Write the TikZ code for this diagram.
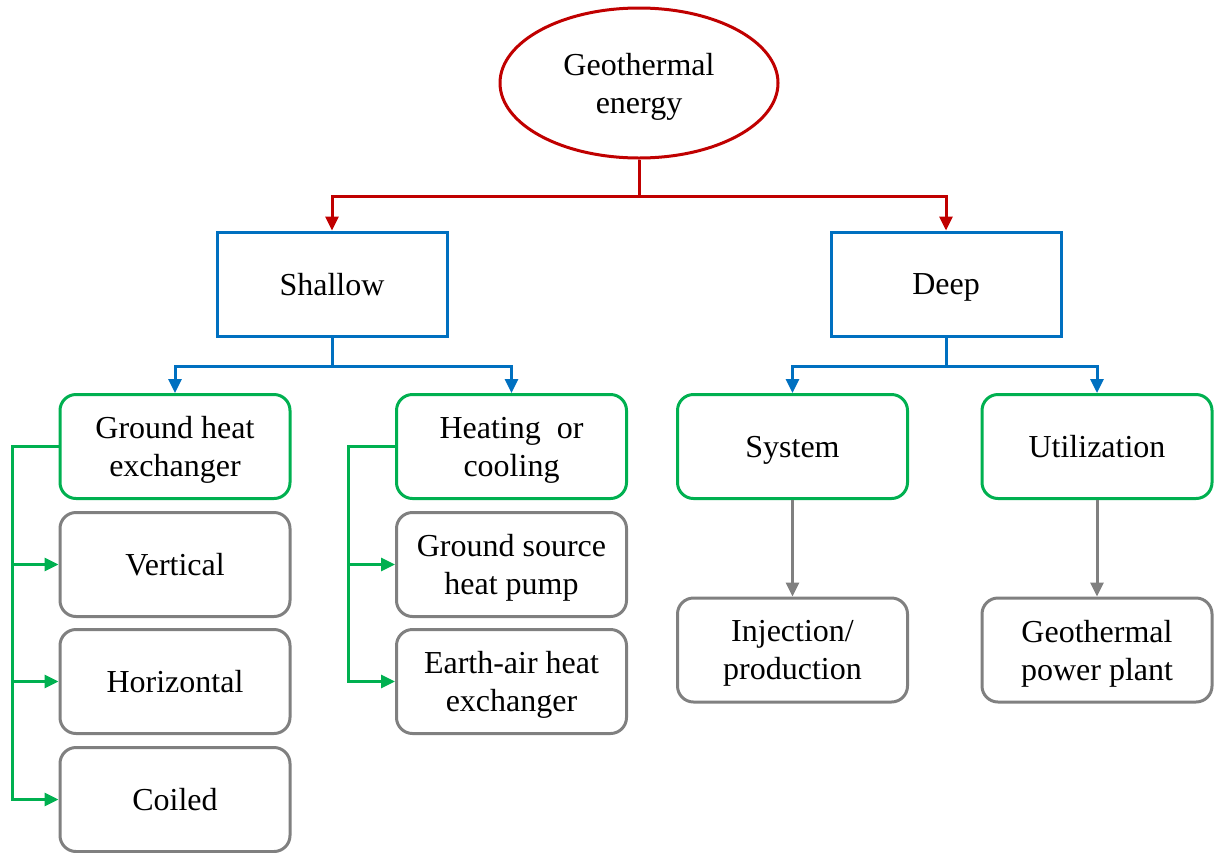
\documentclass[tikz,border=0pt]{standalone}
\usepackage{fontspec}
\setmainfont{Liberation Serif}
\usetikzlibrary{arrows.meta,shapes.geometric}
\definecolor{cred}{HTML}{C00000}
\definecolor{cblue}{HTML}{0070C0}
\definecolor{cgreen}{HTML}{00B050}
\definecolor{cgray}{HTML}{808080}
\tikzset{
  box/.style={draw, line width=3pt, minimum width=230pt, minimum height=104pt, align=center, inner sep=0pt, text=black, text depth=0pt},
  lone/.style={box, draw=cblue},
  ltwo/.style={box, draw=cgreen, rounded corners=16pt},
  lthree/.style={box, draw=cgray, rounded corners=16pt},
  conn/.style={line width=3pt, -{Triangle[length=14pt,width=13pt]}},
}
\begin{document}
\begin{tikzpicture}[x=1pt,y=-1pt, font=\fontsize{32}{38}\selectfont]
\useasboundingbox (0,0) rectangle (1214,852);
\node[ellipse, draw=cred, line width=3pt, minimum width=278pt, minimum height=150pt, align=center, inner sep=0pt, text depth=0pt] (geo) at (639,83) {Geothermal\\energy};
\node[lone] (sh) at (332,284) {Shallow};
\node[lone] (dp) at (946,284) {Deep};
\node[ltwo] (ghe) at (175,446.5) {Ground heat\\exchanger};
\node[ltwo] (hc) at (511.5,446.5) {Heating~~or\\cooling};
\node[ltwo] (sys) at (792.5,446.5) {System};
\node[ltwo] (ut) at (1097,446.5) {Utilization};
\node[lthree] (ve) at (175,564.5) {Vertical};
\node[lthree] (ho) at (175,681.5) {Horizontal};
\node[lthree] (co) at (175,799.5) {Coiled};
\node[lthree] (gs) at (511.5,564.5) {Ground source\\heat pump};
\node[lthree] (ea) at (511.5,681.5) {Earth-air heat\\exchanger};
\node[lthree] (inj) at (792.5,650) {Injection/\\production};
\node[lthree] (gp) at (1097,650) {Geothermal\\power plant};
% red
\draw[conn, cred] (geo.south) -- ++(0,37) -| (sh.north);
\draw[conn, cred] (geo.south) -- ++(0,37) -| (dp.north);
% blue
\draw[conn, cblue] (sh.south) -- ++(0,29) -| (ghe.north);
\draw[conn, cblue] (sh.south) -- ++(0,29) -| (hc.north);
\draw[conn, cblue] (dp.south) -- ++(0,29) -| (sys.north);
\draw[conn, cblue] (dp.south) -- ++(0,29) -| (ut.north);
% green
\coordinate (gx) at (12,446.5);
\coordinate (hx) at (348,446.5);
\draw[conn, cgreen] (ghe.west) -- (gx) |- (ve.west);
\draw[conn, cgreen] (ghe.west) -- (gx) |- (ho.west);
\draw[conn, cgreen] (ghe.west) -- (gx) |- (co.west);
\draw[conn, cgreen] (hc.west) -- (hx) |- (gs.west);
\draw[conn, cgreen] (hc.west) -- (hx) |- (ea.west);
% gray
\draw[conn, cgray] (sys.south) -- (inj.north);
\draw[conn, cgray] (ut.south) -- (gp.north);
\end{tikzpicture}
\end{document}
